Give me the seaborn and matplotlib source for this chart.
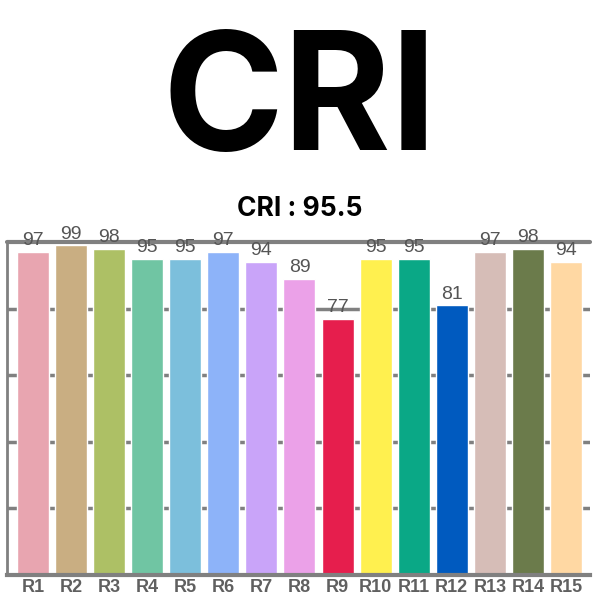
import matplotlib
matplotlib.use("Agg")
import matplotlib.pyplot as plt
import seaborn as sns
import pandas as pd

categories = ["R1", "R2", "R3", "R4", "R5", "R6", "R7", "R8", "R9", "R10",
              "R11", "R12", "R13", "R14", "R15"]
values = [97, 99, 98, 95, 95, 97, 94, 89, 77, 95, 95, 81, 97, 98, 94]
colors = ["#E8A5B0", "#C9AE82", "#ADC065", "#70C5A3", "#7CBFDC", "#8DB3F9",
          "#C9A4F9", "#EBA1E8", "#E61E4D", "#FFF04F", "#0AA886", "#005ABF",
          "#D6BDB7", "#6B7B4B", "#FFD8A3"]
title = "CRI"
subtitle = "CRI : 95.5"
yticks = [20, 40, 60, 80, 100]

sns.set_style("white")
narrow = "Liberation Sans"

df = pd.DataFrame({"cat": categories, "val": values})

fig = plt.figure(figsize=(6, 6), dpi=100)
ax = fig.add_axes([7/600, 1 - 575/600, (590 - 7)/600, (575 - 242)/600])

sns.barplot(data=df, x="cat", y="val", hue="cat", palette=colors, legend=False,
            width=0.84, saturation=1, ax=ax, zorder=3)

ax.set_xlim(-0.68, 14.63)
ax.set_ylim(0, 100)
for y in yticks[:-1]:
    ax.axhline(y, color="#808080", lw=2.5, zorder=1)
ax.axhline(100, color="#808080", lw=3, zorder=2, clip_on=False)

for s in ["top", "right"]:
    ax.spines[s].set_visible(False)
ax.spines["left"].set_color("#808080")
ax.spines["left"].set_linewidth(2)
ax.spines["bottom"].set_color("#808080")
ax.spines["bottom"].set_linewidth(3)
ax.spines["bottom"].set_zorder(4)

ax.set_yticks([])
ax.set_xlabel("")
ax.set_ylabel("")
ax.tick_params(axis="x", length=0, pad=3)
for lab in ax.get_xticklabels():
    lab.set_fontfamily(narrow)
    lab.set_fontsize(13)
    lab.set_fontweight("bold")
    lab.set_color("#606060")

for i, v in enumerate(values):
    ax.text(i, v + 0.8, str(v), ha="center", va="bottom", fontsize=14,
            color="#555555", family=narrow, zorder=5)

fig.text(0.5, 1 - 150/600, title, ha="center", va="baseline", fontsize=118,
         fontweight="bold", family="Inter", color="black")
fig.text(0.5, 1 - 216/600, subtitle, ha="center", va="baseline", fontsize=19,
         fontweight="bold", family="Inter", color="black")

fig.savefig("out.png", dpi=100)
